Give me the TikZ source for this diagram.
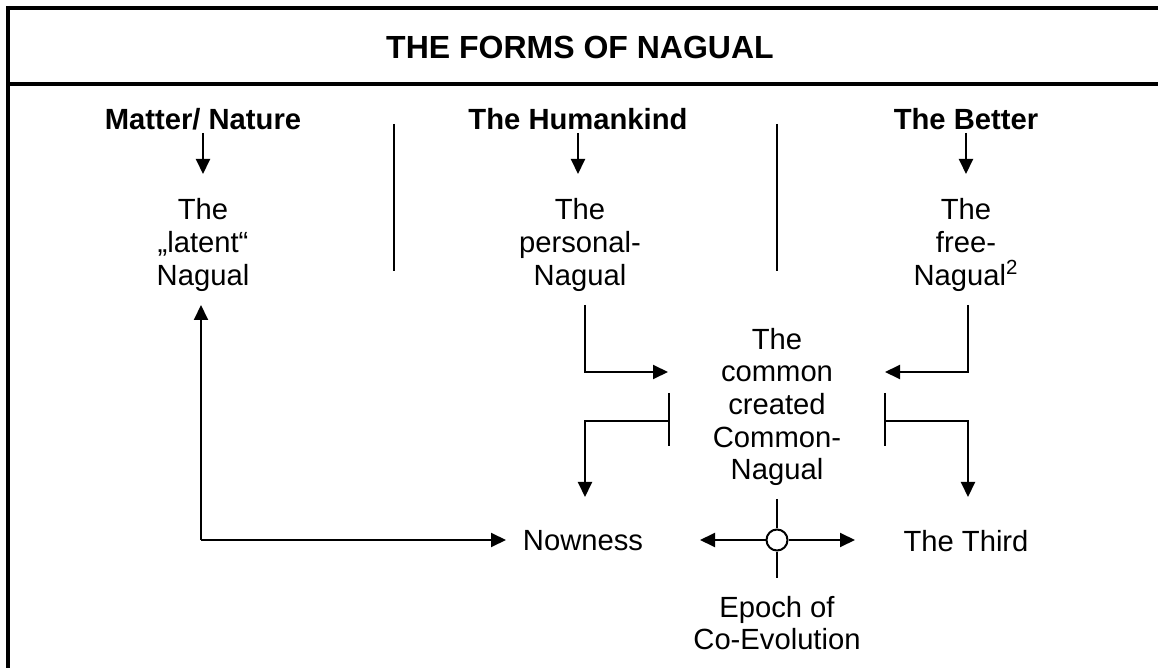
\documentclass[tikz,border=0pt]{standalone}
\usepackage{fontspec}
\setmainfont{Liberation Sans}
\usetikzlibrary{arrows.meta}
\begin{document}
\begin{tikzpicture}[x=0.5pt,y=-0.5pt,
  frame/.style={line width=2pt},
  thin/.style={line width=1pt},
  arr/.style={line width=1pt,-{Triangle[length=7.5pt,width=7pt]}},
  txt/.style={inner sep=0pt,align=center,font=\fontsize{14.6pt}{16.3pt}\selectfont},
  head/.style={inner sep=0pt,align=center,font=\fontsize{14.6pt}{16.3pt}\selectfont\bfseries},
  title/.style={inner sep=0pt,font=\fontsize{16pt}{19pt}\selectfont\bfseries}]
\useasboundingbox (0,0) rectangle (1158,668);
% frame
\coordinate (tl) at (6,8);
\coordinate (tr) at (1158,8);
\coordinate (lt) at (8,6);
\coordinate (bl) at (8,668);
\coordinate (sl) at (8,84);
\coordinate (sr) at (1158,84);
\draw[frame] (tl) -- (tr);
\draw[frame] (lt) -- (bl);
\draw[frame] (sl) -- (sr);
\node[title] (title) at (580,47) {THE FORMS OF NAGUAL};
% headers
\node[head] (h1) at (203,119) {Matter/ Nature};
\node[head] (h2) at (578,119) {The Humankind};
\node[head] (h3) at (966,119) {The Better};
% dividers
\coordinate (d1a) at (394,124); \coordinate (d1b) at (394,271);
\coordinate (d2a) at (777,124); \coordinate (d2b) at (777,271);
\draw[thin] (d1a) -- (d1b);
\draw[thin] (d2a) -- (d2b);
% nagual forms
\node[txt] (latent) at (203,245) {The\\„latent“\\Nagual};
\node[txt] (personal) at (580,245) {The\\personal-\\Nagual};
\node[txt] (free) at (966,245) {The\\free-\\Nagual\textsuperscript{2}};
\coordinate (a1s) at (203,133); \coordinate (a1e) at (203,174);
\coordinate (a2s) at (578,133); \coordinate (a2e) at (578,174);
\coordinate (a3s) at (966,133); \coordinate (a3e) at (966,174);
\draw[arr] (a1s) -- (a1e);
\draw[arr] (a2s) -- (a2e);
\draw[arr] (a3s) -- (a3e);
% common nagual
\node[txt] (common) at (777,407) {The\\common\\created\\Common-\\Nagual};
\coordinate (pl) at (585,305); \coordinate (plc) at (585,372); \coordinate (ple) at (668,372);
\coordinate (fr) at (968,305); \coordinate (frc) at (968,372); \coordinate (fre) at (885,372);
\draw[arr] (pl) -- (plc) -- (ple);
\draw[arr] (fr) -- (frc) -- (fre);
% T-bars
\coordinate (tla) at (669,393); \coordinate (tlb) at (669,446); \coordinate (tlm) at (669,421);
\coordinate (tra) at (885,393); \coordinate (trb) at (885,446); \coordinate (trm) at (885,421);
\draw[thin] (tla) -- (tlb);
\draw[thin] (tra) -- (trb);
% bottom row
\node[txt] (now) at (583,541) {Nowness};
\node[txt] (third) at (966,541) {The Third};
\node[txt] (epoch) at (777,623) {Epoch of\\Co-Evolution};
\coordinate (nl) at (585,421); \coordinate (nle) at (585,497);
\coordinate (nr) at (968,421); \coordinate (nre) at (968,497);
\draw[arr] (tlm) -- (nl) -- (nle);
\draw[arr] (trm) -- (nr) -- (nre);
% loop back
\coordinate (lc) at (201,540);
\coordinate (lup) at (201,305);
\coordinate (lnow) at (506,540);
\draw[arr] (lc) -- (lup);
\draw[arr] (lc) -- (lnow);
% axis with circle
\node[circle,draw,line width=1pt,minimum size=10.5pt,inner sep=0pt,fill=white] (hub) at (777,540) {};
\coordinate (axl) at (700,540); \coordinate (axr) at (855,540);
\coordinate (axt) at (777,499); \coordinate (axb) at (777,578);
\draw[arr] (hub.west) -- (axl);
\draw[arr] (hub.east) -- (axr);
\draw[thin] (axt) -- (hub.north);
\draw[thin] (hub.south) -- (axb);
\end{tikzpicture}
\end{document}
